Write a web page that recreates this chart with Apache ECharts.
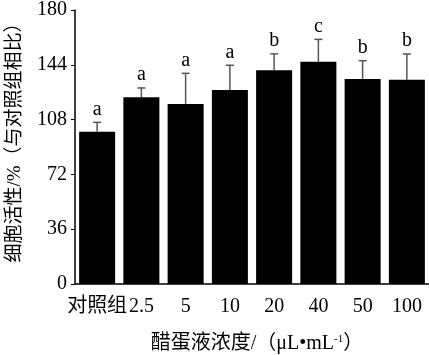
<!DOCTYPE html>
<html><head><meta charset="utf-8">
<script src="https://cdn.jsdelivr.net/npm/echarts@6/dist/echarts.min.js"></script>
<style>html,body{margin:0;padding:0;background:#fff}#c{width:429px;height:355px}</style>
</head><body><div id="c"></div>
<script>
var categories = ['对照组', '2.5', '5', '10', '20', '40', '50', '100'];
var means = [100, 122.7, 118.3, 127.5, 140.4, 146, 134.7, 134.2];
var errorTops = [106.2, 128.8, 138.4, 143.7, 151.2, 160.7, 146.7, 151.1];
var letters = ['a', 'a', 'a', 'a', 'b', 'c', 'b', 'b'];
var yTicks = [0, 36, 72, 108, 144, 180];

var serif = '"Liberation Serif","DejaVu Serif","Noto Sans CJK SC",serif';
var chart = echarts.init(document.getElementById('c'), null, {renderer: 'canvas'});
var errData = categories.map(function (c, i) { return [i, means[i], errorTops[i], letters[i]]; });

chart.setOption({
  animation: false,
  backgroundColor: '#fff',
  grid: {left: 75, right: 0, top: 10, bottom: 71, containLabel: false, outerBoundsMode: 'none'},
  xAxis: {
    type: 'category', data: categories,
    axisLine: {lineStyle: {color: '#000', width: 1.5}},
    axisTick: {show: false},
    axisLabel: {color: '#000', fontFamily: serif, fontSize: 20, margin: 13, interval: 0},
    name: '醋蛋液浓度/（μL•mL{sup|-1}）',
    nameLocation: 'middle', nameGap: 50,
    nameTextStyle: {color: '#000', fontFamily: serif, fontSize: 20, padding: [0, 0, 0, 10],
      rich: {sup: {fontSize: 11, verticalAlign: 'top', padding: [0, 0, 9, 0], fontFamily: serif, color: '#000'}}}
  },
  yAxis: {
    type: 'value', min: yTicks[0], max: yTicks[yTicks.length - 1], interval: 36,
    axisLine: {show: true, lineStyle: {color: '#000', width: 1.5}},
    axisTick: {show: true, inside: false, length: 4, lineStyle: {color: '#000'}},
    axisLabel: {color: '#000', fontFamily: serif, fontSize: 20, margin: 8},
    splitLine: {show: false},
    name: '细胞活性/%（与对照组相比）',
    nameLocation: 'middle', nameGap: 50, nameRotate: 90,
    nameTextStyle: {color: '#000', fontFamily: serif, fontSize: 19, padding: [0, 0, 0, 18]}
  },
  series: [{
    type: 'bar', data: means, barWidth: 36,
    itemStyle: {color: '#000'}
  }, {
    type: 'custom', data: errData, z: 5,
    renderItem: function (params, api) {
      var x = api.value(0);
      var top = api.coord([x, api.value(1)]);
      var err = api.coord([x, api.value(2)]);
      return {type: 'group', children: [
        {type: 'line', shape: {x1: top[0], y1: top[1], x2: err[0], y2: err[1]}, style: {stroke: '#555', lineWidth: 1.5}},
        {type: 'line', shape: {x1: err[0] - 4, y1: err[1], x2: err[0] + 4, y2: err[1]}, style: {stroke: '#555', lineWidth: 1.5}},
        {type: 'text', x: err[0], y: err[1] - 3, style: {text: api.value(3), textAlign: 'center', textVerticalAlign: 'bottom', fill: '#000', font: '20px ' + serif}}
      ]};
    }
  }]
});
</script></body></html>
